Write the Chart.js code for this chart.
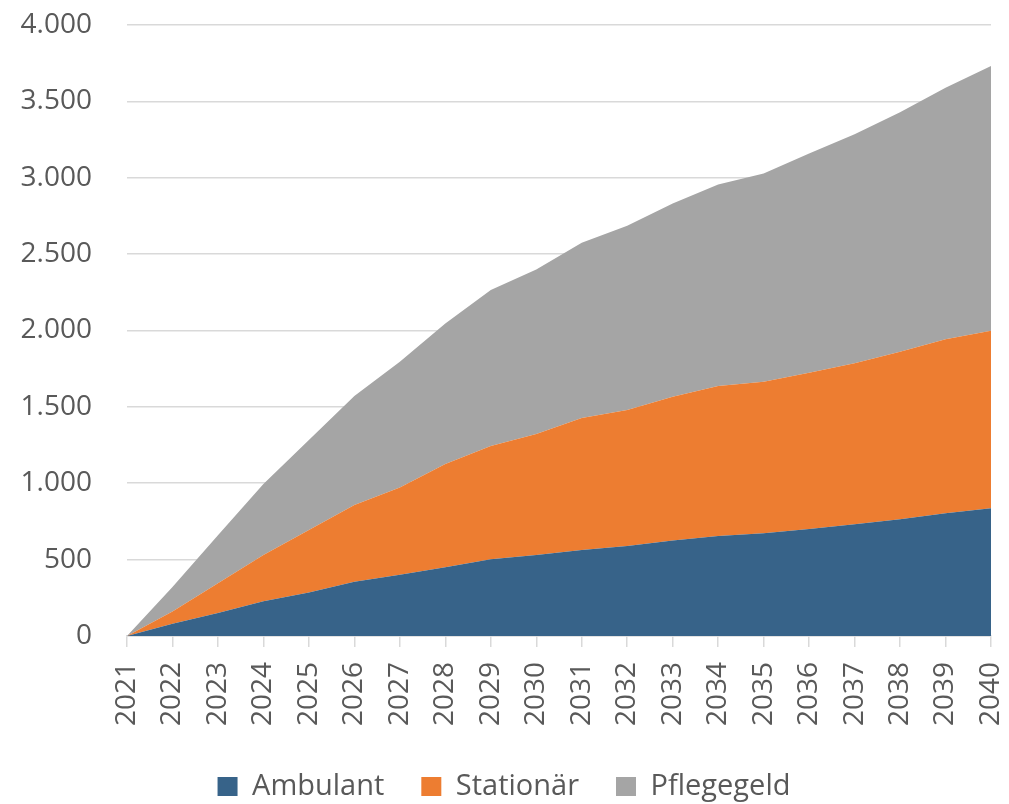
<!DOCTYPE html>
<html><head><meta charset="utf-8">
<script src="https://cdn.jsdelivr.net/npm/chart.js@4/dist/chart.umd.min.js"></script>
<style>html,body{margin:0;padding:0;background:#fff}canvas{display:block}</style>
</head><body>
<canvas id="c" width="1009" height="804"></canvas>
<script>
const years = ["2021","2022","2023","2024","2025","2026","2027","2028","2029","2030","2031","2032","2033","2034","2035","2036","2037","2038","2039","2040"];
const ambulant = [0,80,150,228,285,355,400,450,502,530,563,589,625,654,673,700,731,764,803,836];
const stationaer = [0,80,195,302,409,502,572,676,742,792,864,891,941,982,992,1023,1054,1097,1139,1162];
const pflegegeld = [0,160,315,465,589,714,823,920,1021,1078,1147,1206,1266,1320,1363,1436,1499,1567,1647,1733];
const yTicks = [0,500,1000,1500,2000,2500,3000,3500,4000];
const seriesNames = ["Ambulant","Stationär","Pflegegeld"];
const colors = ["#376389","#ED7D31","#A5A5A5"];

const fmt = v => String(v).replace(/\B(?=(\d{3})+(?!\d))/g, ".");
const FONT = "'Open Sans', 'Noto Sans', sans-serif";
const TXT = "#595959";

new Chart(document.getElementById('c'), {
  type: 'line',
  data: {
    labels: years,
    datasets: [ambulant, stationaer, pflegegeld].map((d,i)=>({
      label: seriesNames[i], data: d,
      backgroundColor: colors[i], borderColor: colors[i],
      borderWidth: 0, pointRadius: 0, fill: i===0 ? 'origin' : '-1', tension: 0
    }))
  },
  options: {
    responsive: false, animation: false,
    layout: { autoPadding: false, padding: { left: 17, right: 18, top: 25, bottom: -7 } },
    plugins: {
      legend: { position: 'bottom',
        labels: { font: { family: FONT, size: 29 }, color: TXT, boxWidth: 20, boxHeight: 19, padding: 37 } },
      tooltip: { enabled: false }
    },
    scales: {
      x: {
        offset: false,
        afterFit: ax => { ax.height -= 6; ax.paddingLeft = 0; ax.paddingRight = 0; },
        grid: { display: true, drawOnChartArea: false, drawTicks: true, tickLength: 11, color: '#d9d9d9', lineWidth: 1.5 },
        border: { display: true, color: '#d9d9d9', width: 1.5 },
        ticks: { minRotation: 90, maxRotation: 90, autoSkip: false, font: { family: FONT, size: 28 }, color: TXT, padding: 15 }
      },
      y: {
        stacked: true, min: 0, max: 4000,
        afterFit: ax => { ax.width = 110; ax.paddingTop = 0; ax.paddingBottom = 0; },
        afterBuildTicks: ax => { ax.ticks = yTicks.map(v => ({ value: v })); },
        grid: { color: '#d9d9d9', lineWidth: 1.5, drawTicks: false },
        border: { display: false },
        ticks: { callback: v => fmt(v), font: { family: FONT, size: 28 }, color: TXT, padding: 35 }
      }
    }
  }
});
</script>
</body></html>
